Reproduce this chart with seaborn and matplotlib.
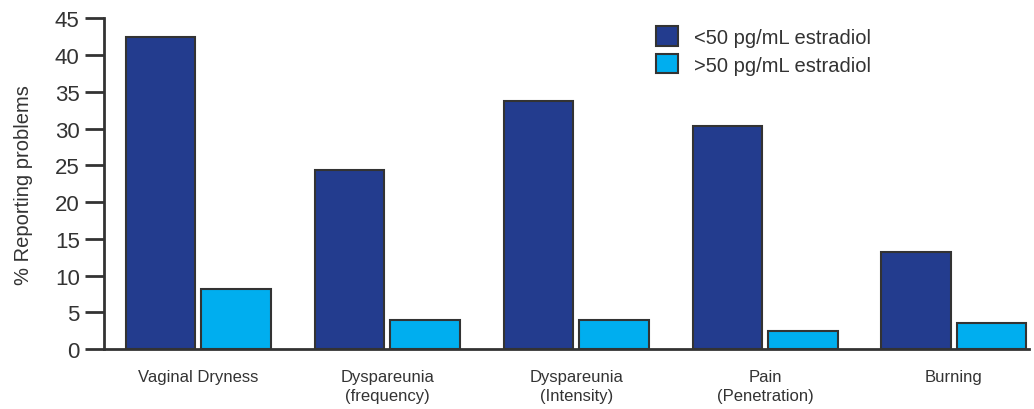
import pandas as pd
import matplotlib.pyplot as plt
import seaborn as sns

# values
categories = ['Vaginal Dryness', 'Dyspareunia\n(frequency)', 'Dyspareunia\n(Intensity)',
              'Pain\n(Penetration)', 'Burning']
low_estradiol = [42.4, 24.3, 33.7, 30.4, 13.2]
high_estradiol = [8.2, 4.0, 3.9, 2.5, 3.5]
series_names = ['<50 pg/mL estradiol', '>50 pg/mL estradiol']
colors = ['#233c8e', '#00aeef']

df = pd.DataFrame({
    'Category': categories * 2,
    'Value': low_estradiol + high_estradiol,
    'Group': [series_names[0]] * len(categories) + [series_names[1]] * len(categories),
})

sns.set_style('white')
plt.rcParams['font.family'] = ['Liberation Sans', 'DejaVu Sans']

fig = plt.figure(figsize=(10.34, 4.10), dpi=100)
ax = fig.add_axes([0.1006, 0.146, 0.895, 0.807])

sns.barplot(data=df, x='Category', y='Value', hue='Group', palette=colors, saturation=1,
            width=0.8, gap=0.08, edgecolor='#333333', linewidth=1.5, ax=ax)

ax.set_xlim(-0.5, 4.4)
ax.set_ylim(0, 45)
ax.set_yticks(range(0, 50, 5))
ax.set_xlabel('')
ax.set_ylabel('% Reporting problems', fontsize=14.5, color='#333333', labelpad=16)

# category separators as minor ticks
ax.set_xticks([0.5, 1.5, 2.5, 3.5], minor=True)
ax.tick_params(axis='x', which='major', length=0, labelsize=12, colors='#333333', pad=14)
ax.tick_params(axis='x', which='minor', length=10, width=2, color='#333333', direction='out')
ax.tick_params(axis='y', length=14, width=2, color='#333333', labelsize=16, labelcolor='#333333',
               direction='out', left=True)
for lab in ax.get_xticklabels():
    lab.set_linespacing(1.35)

sns.despine(ax=ax)
for side in ['left', 'bottom']:
    ax.spines[side].set_linewidth(2)
    ax.spines[side].set_color('#333333')

leg = ax.legend(loc='upper left', bbox_to_anchor=(0.577, 1.03), frameon=False, fontsize=14.5,
                handlelength=1.1, handleheight=1.1, labelcolor='#333333', labelspacing=0.35)
for h in leg.legend_handles:
    h.set_edgecolor('#333333')
    h.set_linewidth(1.5)

fig.savefig('out.png', dpi=100)
